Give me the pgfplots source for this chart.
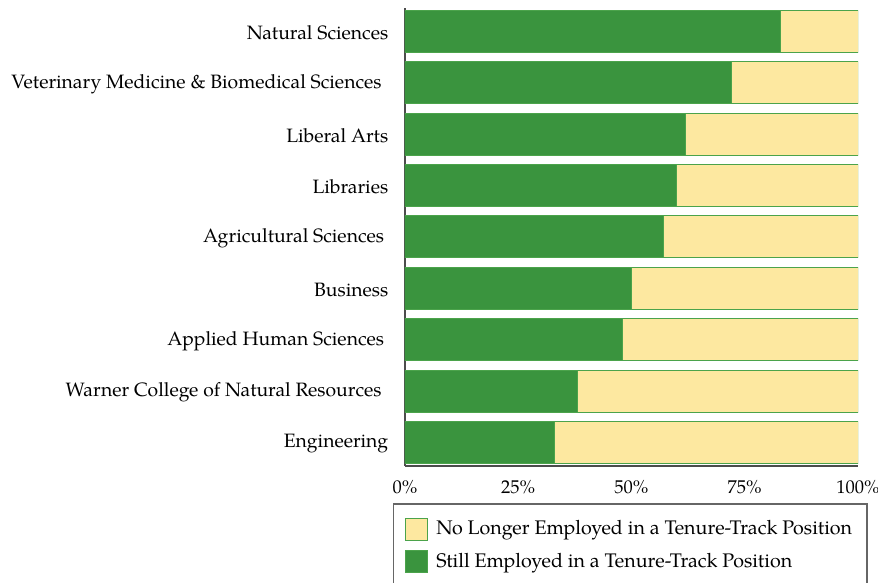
\documentclass[border=0pt]{standalone}
\usepackage{fontspec}
\setmainfont{TeX Gyre Pagella}
\usepackage{pgfplots}
\pgfplotsset{compat=1.18}
\definecolor{grn}{HTML}{3A943E}
\definecolor{ylw}{HTML}{FDE8A0}
\definecolor{edge}{HTML}{4BA34B}
\begin{document}
\fontsize{11.6}{14}\selectfont
\begin{tikzpicture}
\useasboundingbox (-243pt,-70.2pt) rectangle (283.8pt,279.6pt);
\begin{axis}[
  at={(0pt,0pt)}, anchor=south west,
  scale only axis, width=271.8pt, height=274.8pt,
  xbar stacked, bar width=25.2pt,
  xmin=0, xmax=100, ymin=-0.46, ymax=8.46,
  enlargelimits=false,
  ytick={0,...,8},
  yticklabels={Engineering, Warner College of Natural Resources\kern4pt, Applied Human Sciences\kern2.5pt, Business, Agricultural Sciences\kern2.5pt, Libraries, Liberal Arts, Veterinary Medicine \& Biomedical Sciences\kern4pt, Natural Sciences},
  xtick={0,25,50,75,100},
  xticklabel={\pgfmathprintnumber{\tick}\%},
  /pgf/number format/assume math mode=true,
  axis lines*=left,
  axis line style={black!70, line width=0.9pt},
  major tick length=0pt,
  tick style={draw=none},
  ticklabel style={font=\fontsize{11.6}{14}\selectfont},
  xticklabel style={yshift=-4.6pt, font=\fontsize{11.1}{13}\selectfont},
  yticklabel style={xshift=-6pt, yshift=-0.8pt},
  reverse legend,
  legend style={at={(0,0)}, anchor=north west, xshift=-7.2pt, yshift=-22.4pt,
    draw=black!60, line width=0.8pt, font=\fontsize{11.8}{14}\selectfont,
    inner xsep=7pt, inner ysep=8pt, row sep=5pt},
  legend cell align=left,
  legend image code/.code={\draw[#1, line width=0.6pt] (0pt,-6.6pt) rectangle (13.2pt,6.6pt); \path (16pt,0pt);},
]
\addplot[fill=grn, draw=edge, line width=0.6pt] coordinates {(33,0) (38,1) (48,2) (50,3) (57,4) (60,5) (62,6) (72,7) (83,8)};
\addplot[fill=ylw, draw=edge, line width=0.6pt] coordinates {(67,0) (62,1) (52,2) (50,3) (43,4) (40,5) (38,6) (28,7) (17,8)};
\legend{Still Employed in a Tenure-Track Position, No Longer Employed in a Tenure-Track Position}
\end{axis}
\end{tikzpicture}
\end{document}
